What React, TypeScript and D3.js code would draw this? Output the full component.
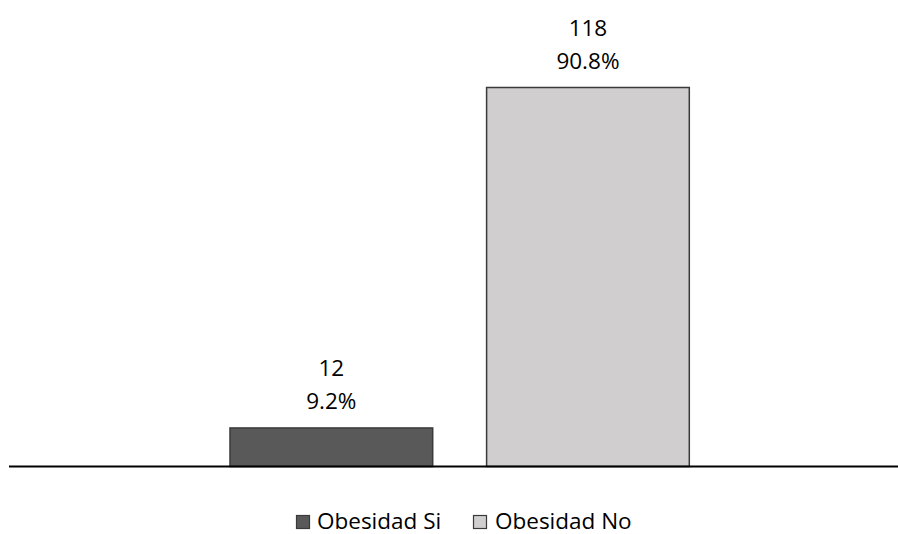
import React from "react";
import * as d3 from "d3";

// Obesity counts and shares
const seriesNames = ["Obesidad Si", "Obesidad No"];
const counts = [12, 118];
const percents = ["9.2%", "90.8%"];
const fills = ["#595959", "#d0cece"];

const W = 898;
const H = 534;
const FONT = "'Open Sans', 'DejaVu Sans', sans-serif";

export default function App() {
  const baseY = 466.5;
  const y = d3.scaleLinear().domain([0, 118]).range([baseY, 87.5]);
  const x = d3
    .scaleBand<string>()
    .domain(seriesNames)
    .range([230, 689.3])
    .paddingInner(0.21)
    .paddingOuter(0);

  const legendItems = [
    { name: seriesNames[0], sx: 296.5, tx: 317 },
    { name: seriesNames[1], sx: 473.5, tx: 495 },
  ];

  return (
    <svg
      width={W}
      height={H}
      style={{ position: "absolute", left: 0, top: 0, background: "#fff" }}
      fontFamily={FONT}
    >
      {seriesNames.map((s, i) => {
        const top = y(counts[i]);
        const cx = (x(s) as number) + x.bandwidth() / 2;
        return (
          <g key={s}>
            <rect
              x={x(s)}
              y={top}
              width={x.bandwidth()}
              height={baseY - top}
              fill={fills[i]}
              stroke="#3a3a3a"
              strokeWidth={1.5}
            />
            <text x={cx} y={top - 51.5} textAnchor="middle" fontSize={22.5} fill="#000">
              {counts[i]}
            </text>
            <text x={cx} y={top - 18.5} textAnchor="middle" fontSize={22.5} fill="#000">
              {percents[i]}
            </text>
          </g>
        );
      })}
      <line x1={9} x2={898} y1={baseY} y2={baseY} stroke="#000" strokeWidth={2} />
      {legendItems.map((it, i) => (
        <g key={it.name}>
          <rect
            x={it.sx}
            y={515.5}
            width={13}
            height={13}
            fill={fills[i]}
            stroke="#3a3a3a"
            strokeWidth={1.2}
          />
          <text x={it.tx} y={528.5} fontSize={22.5} fill="#000">
            {it.name}
          </text>
        </g>
      ))}
    </svg>
  );
}
